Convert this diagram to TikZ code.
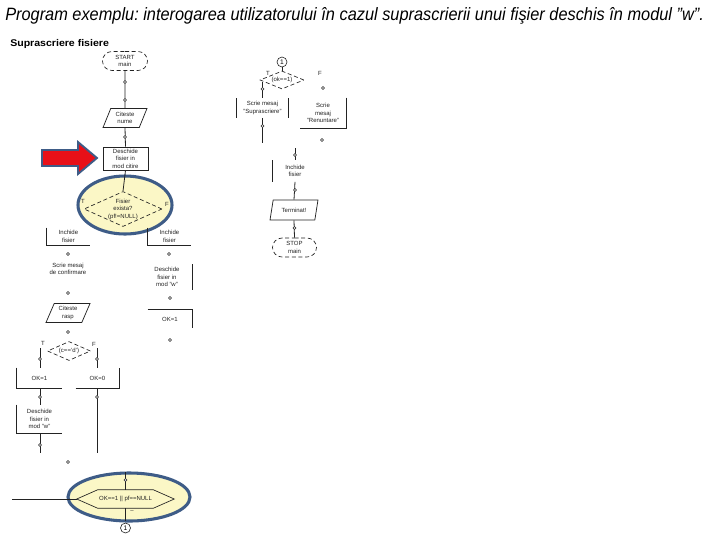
\documentclass[tikz,border=0pt]{standalone}
\usepackage{fontspec}
\setmainfont{Liberation Sans}
\usetikzlibrary{shapes.geometric,shapes.misc}
\definecolor{hlblue}{RGB}{62,92,135}
\definecolor{hlfill}{RGB}{251,247,198}
\definecolor{arrred}{RGB}{232,16,24}
\definecolor{ink}{RGB}{35,35,35}
\frenchspacing
\begin{document}
\begin{tikzpicture}[x=0.75pt,y=-0.75pt,
  fc/.style={font=\fontsize{4.5}{5.6}\selectfont, align=center, inner sep=0pt, text=ink},
  ln/.style={line width=0.6pt, draw=ink},
  termbox/.style={fc, rounded rectangle, draw=ink, line width=0.5pt, densely dashed},
  para/.style={fc, trapezium, trapezium left angle=67, trapezium right angle=113, trapezium stretches=true, draw=ink, line width=0.55pt},
  rectbox/.style={fc, rectangle, draw=ink, line width=0.55pt},
  txtonly/.style={fc, rectangle},
  diam/.style={diamond, draw=ink, line width=0.5pt, densely dashed, inner sep=0pt},
  hl/.style={ellipse, draw=hlblue, line width=2.3pt, fill=hlfill, inner sep=0pt},
  sdot/.style={circle, draw=ink, line width=0.4pt, fill=white, inner sep=0pt, minimum size=2.4pt},
  lbl/.style={font=\fontsize{4.5}{5}\selectfont, inner sep=0pt, text=ink},
  connc/.style={circle, draw=ink, line width=0.45pt, inner sep=0pt, minimum size=7.5pt, font=\fontsize{5}{5}\selectfont}
]
\fill[white] (0,0) rectangle (720,540);
\useasboundingbox (0,0) rectangle (720,540);

% titles
\node[anchor=base west, inner sep=0pt] (title) at (5,20)
  {\resizebox{524pt}{9.75pt}{\itshape Program exemplu: interogarea utilizatorului în cazul suprascrierii unui fişier deschis în modul "w".}};
\node[anchor=base west, inner sep=0pt] (sub) at (10,46)
  {\resizebox{74pt}{5.3pt}{\bfseries Suprascriere fisiere}};

% highlight ellipses
\node[hl, minimum width=70.5pt, minimum height=43.5pt] (ell1) at (125,205) {};
\node[hl, minimum width=91.5pt, minimum height=36pt] (ell2) at (129,497) {};

% red arrow
\draw[fill=arrred, draw=hlblue, line width=1.4pt, line join=miter]
  (42,150) -- (78,150) -- (78,142) -- (97,158) -- (78,174) -- (78,166) -- (42,166) -- cycle;

% ---------- main column ----------
\node[termbox, minimum width=33.75pt, minimum height=14.25pt] (start) at (125,61) {START\\main};
\node[para, minimum width=33pt, minimum height=14.25pt] (cit) at (125,118) {Citeste\\nume};
\node[rectbox, minimum width=33.75pt, minimum height=17.25pt] (desch) at (125.5,158.5) {Deschide\\fisier in\\mod citire};
\node[diam, minimum width=58.5pt, minimum height=26.25pt] (dia1) at (123,209) {};
\node[fc] (dia1t) at (123,209) {Fisier\\exista?\\(pf!=NULL)};
\node[lbl] (t1) at (83,201) {T};
\node[lbl] (f1) at (167,204) {F};

\draw[ln] (start.south) -- (cit.north);
\draw[ln] (cit.south) -- (desch.north);
\draw[ln] (desch.south) -- (dia1.north);
\node[sdot] (s1) at (125,82) {};
\node[sdot] (s2) at (125,100) {};
\node[sdot] (s3) at (125,137) {};

% left branch of first decision
\node[txtonly, minimum width=32.25pt, minimum height=12.75pt] (inL) at (68.5,236.5) {Inchide\\fisier};
\draw[ln] (inL.north west) |- (inL.south east);
\node[sdot] (s4) at (68,254) {};
\node[txtonly] (scrL) at (68,269) {Scrie mesaj\\de confirmare};
\node[sdot] (s5) at (68,293) {};
\node[para, minimum width=33pt, minimum height=14.25pt] (rasp) at (68,313) {Citeste\\rasp};
\node[sdot] (s6) at (68,332) {};

% right branch of first decision
\node[txtonly, minimum width=32.25pt, minimum height=12.75pt] (inR) at (169.5,236.5) {Inchide\\fisier};
\draw[ln] (inR.north west) |- (inR.south east);
\node[sdot] (s7) at (169,254) {};
\node[txtonly, minimum width=37.5pt, minimum height=18.75pt] (deschR) at (167,277) {Deschide\\fisier in\\mod "w"};
\draw[ln] (deschR.north east) -- (deschR.south east);
\node[sdot] (s8) at (170,298) {};
\node[txtonly, minimum width=33pt, minimum height=13.5pt] (okR) at (170,319) {OK=1};
\draw[ln] (okR.north west) -| (okR.south east);
\node[sdot] (s9) at (170,340) {};

% second decision
\node[diam, minimum width=32.25pt, minimum height=14.25pt] (dia2) at (69,351) {};
\node[fc] (dia2t) at (69,351) {(c=='d')};
\node[lbl] (t2) at (43,343) {T};
\node[lbl] (f2) at (94,344) {F};
\coordinate (l2) at (40,348);
\coordinate (r2) at (97,348);

\node[txtonly, minimum width=33.75pt, minimum height=15pt] (ok1) at (39.5,378) {OK=1};
\draw[ln] (ok1.north west) |- (ok1.south east);
\node[txtonly, minimum width=32.25pt, minimum height=15pt] (ok0) at (97.5,378) {OK=0};
\draw[ln] (ok0.south west) -| (ok0.north east);
\draw[ln] (l2) -- (l2 |- ok1.north);
\draw[ln] (r2) -- (r2 |- ok0.north);
\node[sdot] (s10) at (40,359) {};
\node[sdot] (s11) at (97,359) {};

\node[txtonly, minimum width=33.75pt, minimum height=21pt] (deschL) at (39.5,419) {Deschide\\fisier in\\mod "w"};
\draw[ln] (deschL.north west) |- (deschL.south east);
\draw[ln] (ok1.south -| l2) -- (deschL.north -| l2);
\node[sdot] (s12) at (40,397) {};
\coordinate (lend) at (40,453);
\coordinate (rend) at (97,453);
\draw[ln] (deschL.south -| l2) -- (lend);
\node[sdot] (s13) at (40,445) {};
\draw[ln] (ok0.south -| r2) -- (rend);
\node[sdot] (s14) at (97,397) {};
\node[sdot] (s15) at (68,462) {};

% bottom hexagon
\node[fc, minimum width=72.75pt, minimum height=13.5pt] (hex) at (125.5,499) {OK==1 || pf==NULL};
\draw[ln, line width=0.5pt] (hex.west) -- ([xshift=15.75pt]hex.north west) -- ([xshift=-15.75pt]hex.north east)
   -- (hex.east) -- ([xshift=-15.75pt]hex.south east) -- ([xshift=15.75pt]hex.south west) -- cycle;
\coordinate (htop) at (125.5,472);
\coordinate (hleft) at (12,499);
\coordinate (hbot) at (125.5,521);
\draw[ln] (htop) -- (hex.north);
\draw[ln] (hleft) -- (hex.west);
\draw[ln] (hex.south) -- (hbot);
\node[sdot] (s16) at (125.5,480) {};
\node[lbl] (hm) at (132,512) {--};
\node[connc] (c1b) at (125.5,528) {1};

% ---------- right column ----------
\node[connc] (c1) at (282,62) {1};
\node[diam, minimum width=33pt, minimum height=13.5pt] (dia3) at (282,80) {};
\node[fc] (dia3t) at (282,80) {(ok==1)};
\draw[ln] (c1.south) -- (dia3.north);
\node[lbl] (t3) at (268,73) {T};
\node[lbl] (f3) at (320,73) {F};

\node[txtonly, minimum width=38.25pt, minimum height=14.25pt] (scrS) at (262.5,108) {Scrie mesaj\\"Suprascriere"};
\draw[ln] (scrS.north west) -- (scrS.south west) (scrS.north east) -- (scrS.south east);
\coordinate (tl3) at (262.5,82);
\coordinate (tl3e) at (262.5,143);
\draw[ln] (tl3) -- (scrS.north);
\draw[ln] (scrS.south) -- (tl3e);
\node[sdot] (s17) at (262.5,89) {};
\node[sdot] (s18) at (262.5,126) {};

\node[txtonly, minimum width=34.5pt, minimum height=22.5pt] (scrR) at (323,113) {Scrie\\mesaj\\"Renuntare"};
\draw[ln] (scrR.north east) |- (scrR.south west);
\node[sdot] (s19) at (323,88) {};
\node[sdot] (s20) at (322,140) {};

\node[txtonly, minimum width=33pt, minimum height=15.75pt] (inC) at (295,171) {Inchide\\fisier};
\draw[ln] (inC.north west) -- (inC.south west);
\coordinate (cin) at (295,148);
\draw[ln] (cin) -- (inC.north);
\node[sdot] (s21) at (295,155) {};
\node[para, minimum width=36pt, minimum height=15pt] (term2) at (294,210) {Terminat!};
\draw[ln] (inC.south) -- (term2.north);
\node[sdot] (s22) at (295,190) {};
\node[termbox, minimum width=33pt, minimum height=14.25pt] (stop) at (294.5,247.5) {STOP\\main};
\draw[ln] (term2.south) -- (stop.north);
\node[sdot] (s23) at (294.5,228) {};
\end{tikzpicture}
\end{document}
